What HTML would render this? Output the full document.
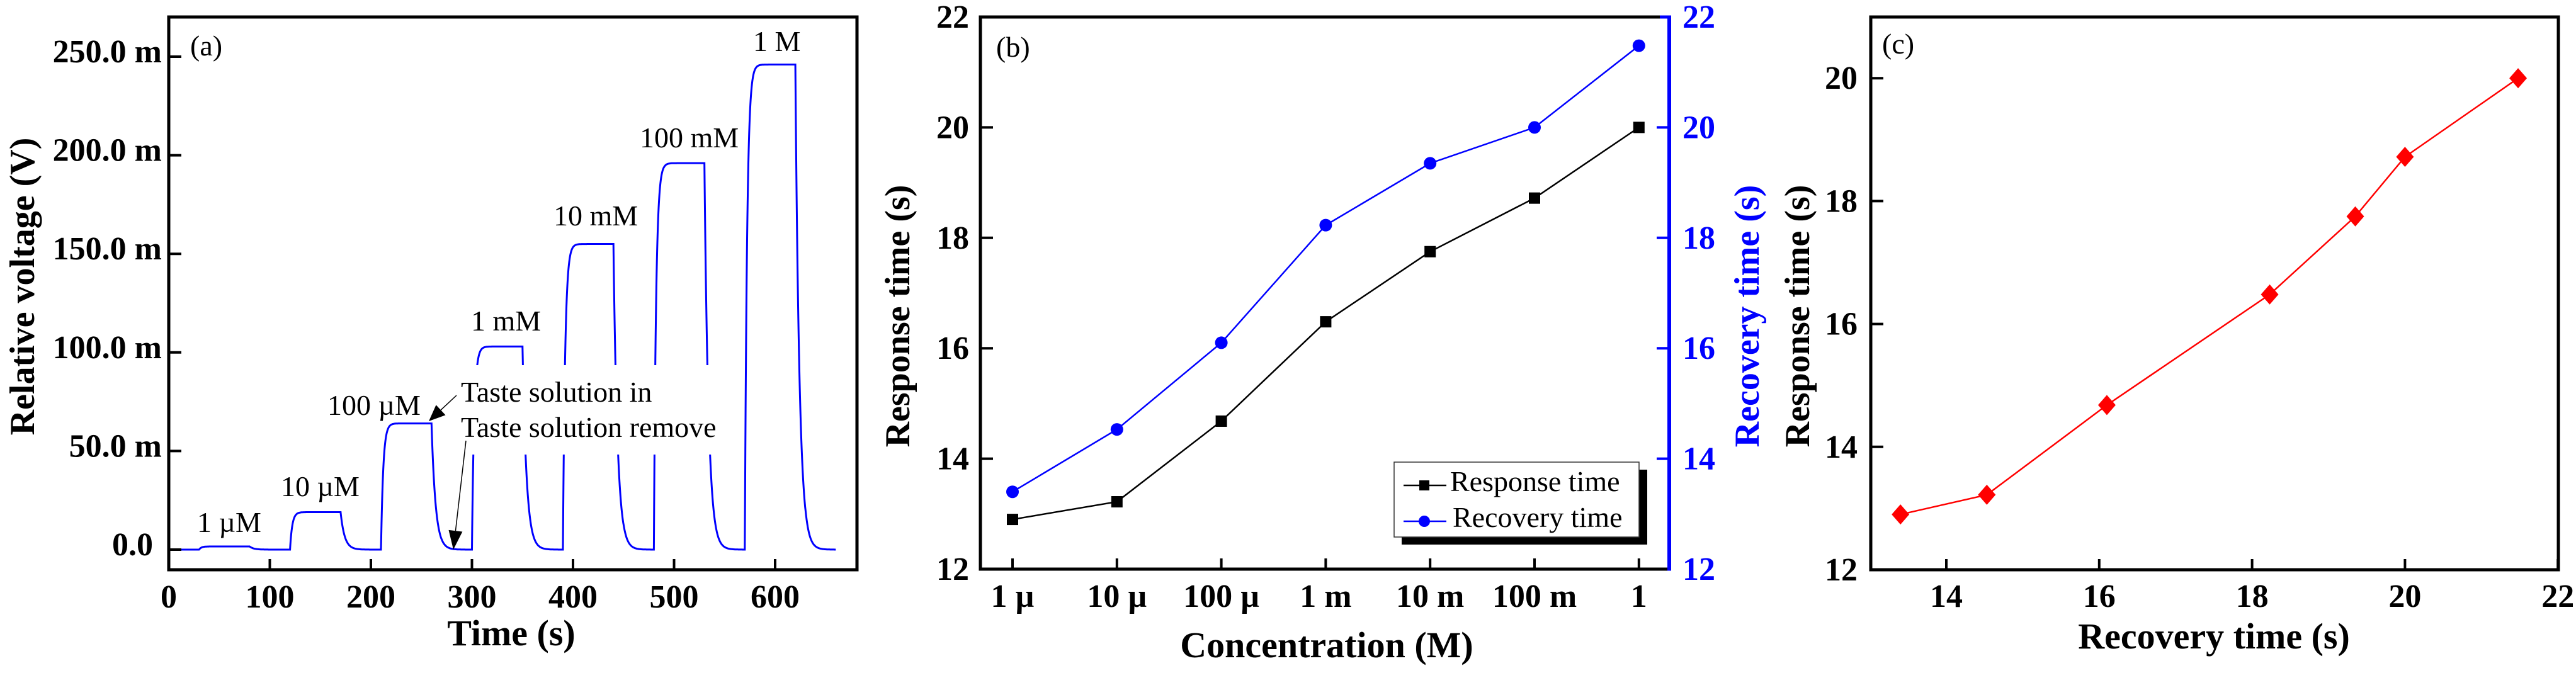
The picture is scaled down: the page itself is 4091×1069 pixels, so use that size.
<!DOCTYPE html>
<html><head><meta charset="utf-8"><style>
html,body{margin:0;padding:0;background:#fff}
svg, svg text{font-family:"Liberation Serif","DejaVu Serif",serif !important}
</style></head><body>
<svg id="fig" width="4091" height="1064" viewBox="0 0 4091 1064" xmlns="http://www.w3.org/2000/svg" font-family="'Liberation Serif', 'DejaVu Serif', serif">
<rect width="4091" height="1064" fill="#fff"/>
<g id="pa"></g>
<g id="pb"></g>
<g id="pc"></g>
</svg>
<script>
// ---- panel (a) data ----
const pulseStarts = [30, 120, 210, 300, 390, 480, 570];
const pulseLevels = [1.6, 19, 64, 103, 155, 196, 246];
const pulseLabels = ["1 µM", "10 µM", "100 µM", "1 mM", "10 mM", "100 mM", "1 M"];
const aXTicks = [0, 100, 200, 300, 400, 500, 600];
const aYTicks = [0, 50, 100, 150, 200, 250];
const aYTickLabels = ["0.0", "50.0 m", "100.0 m", "150.0 m", "200.0 m", "250.0 m"];
// ---- panel (b)/(c) data ----
const concCategories = ["1 µ", "10 µ", "100 µ", "1 m", "10 m", "100 m", "1"];
const responseTimes = [12.9, 13.22, 14.68, 16.48, 17.75, 18.72, 20.0];
const recoveryTimes = [13.4, 14.53, 16.1, 18.23, 19.35, 20.0, 21.48];
const bYTicks = [12, 14, 16, 18, 20, 22];
const cXTicks = [14, 16, 18, 20, 22];
const cYTicks = [12, 14, 16, 18, 20];

const NS = "http://www.w3.org/2000/svg";
function mk(parent, tag, attrs, text) {
  const e = document.createElementNS(NS, tag);
  for (const k in attrs) e.setAttribute(k, attrs[k]);
  if (tag === 'text') e.style.fontFamily = '"Liberation Serif", "DejaVu Serif", serif';
  if (text !== undefined) e.textContent = text;
  parent.appendChild(e);
  return e;
}

// ================= Panel A =================
(function(){
  const g = document.getElementById('pa');
  const L = 268, R = 1361, T = 27, B = 905;
  const x = t => L + (t - 0) * 1.605;
  const y = v => 873 - v * 3.132;
  let pts = [];
  const dur = 50, tr = 2.2, td = 4;
  for (let t = 0; t <= 660; t += 0.25) {
    let v = 0;
    for (let i = 0; i < pulseStarts.length; i++) {
      const s = pulseStarts[i], lv = pulseLevels[i];
      if (t >= s && t < s + dur) v += lv * (1 - Math.exp(-(t - s) / tr));
      else if (t >= s + dur) {
        const top = lv * (1 - Math.exp(-dur / tr));
        v += top * Math.exp(-(t - s - dur) / td);
      }
    }
    pts.push(x(t).toFixed(1) + "," + y(v).toFixed(1));
  }
  const curve = mk(g, 'polyline', {points: pts.join(' '), fill: 'none', stroke: '#0000ff', 'stroke-width': 3});
  
  
  const m = mk(g, 'rect', {x: 750, y: 580, width: 412, height: 142, fill: '#fff'});
  
  
  const lblPos = [[313, 845], [446, 788], [520, 659], [748, 525], [879, 358], [1016, 234], [1196, 81]];
  pulseLabels.forEach((s, i) => {
    const t = mk(g, 'text', {x: lblPos[i][0], y: lblPos[i][1], 'font-size': 46}, s);
    
    
  });
  let t1 = mk(g, 'text', {x: 732, y: 638, 'font-size': 46}, 'Taste solution in');
  
  
  let t2 = mk(g, 'text', {x: 732, y: 694, 'font-size': 46}, 'Taste solution remove');
  
  
  function arrow(x1, y1, x2, y2, hl, hw, name) {
    const a = mk(g, 'g', {});
    
    
    const dx = x2 - x1, dy = y2 - y1, len = Math.hypot(dx, dy);
    const ux = dx / len, uy = dy / len;
    const bx = x2 - ux * hl, by = y2 - uy * hl;
    mk(a, 'line', {x1: x1, y1: y1, x2: bx, y2: by, stroke: '#000', 'stroke-width': 1.5});
    mk(a, 'polygon', {points: `${x2},${y2} ${bx - uy * hw},${by + ux * hw} ${bx + uy * hw},${by - ux * hw}`, fill: '#000'});
  }
  arrow(725, 628, 681, 669, 26, 11, 'arrow-solution-in');
  arrow(740, 700, 720, 873, 30, 11, 'arrow-solution-remove');
  aXTicks.forEach(v => {
    mk(g, 'line', {x1: x(v), y1: B, x2: x(v), y2: B - 17, stroke: '#000', 'stroke-width': 4});
    const t = mk(g, 'text', {x: x(v), y: 965, 'font-size': 52, 'font-weight': 'bold', 'text-anchor': 'middle'}, String(v));
    
    
  });
  aYTicks.forEach((v, i) => {
    mk(g, 'line', {x1: L, y1: y(v), x2: L + 20, y2: y(v), stroke: '#000', 'stroke-width': 4});
    const t = mk(g, 'text', {x: v === 0 ? 243 : 257, y: y(v) + 9, 'font-size': 52, 'font-weight': 'bold', 'text-anchor': 'end'}, aYTickLabels[i]);
    
    
  });
  const fr = mk(g, 'rect', {x: L, y: T, width: R - L, height: B - T, fill: 'none', stroke: '#000', 'stroke-width': 5});
  
  
  let tl = mk(g, 'text', {x: 302, y: 88, 'font-size': 46}, '(a)');
  
  
  let xt = mk(g, 'text', {x: 812, y: 1025, 'font-size': 58, 'font-weight': 'bold', 'text-anchor': 'middle'}, 'Time (s)');
  
  
  let yt = mk(g, 'text', {x: 0, y: 0, 'font-size': 56, 'font-weight': 'bold', 'text-anchor': 'middle', transform: 'translate(54,455) rotate(-90)'}, 'Relative voltage (V)');
  
  
})();

// ================= Panel B =================
(function(){
  const g = document.getElementById('pb');
  const L = 1557, R = 2651, T = 27, B = 904;
  const x = i => 1608 + i * 165.8;
  const y = v => B - (v - 12) * (B - T) / 10;
  const lr = mk(g, 'polyline', {points: responseTimes.map((v, i) => x(i) + ',' + y(v)).join(' '), fill: 'none', stroke: '#000', 'stroke-width': 2.5});
  
  
  const lc = mk(g, 'polyline', {points: recoveryTimes.map((v, i) => x(i) + ',' + y(v)).join(' '), fill: 'none', stroke: '#0000ff', 'stroke-width': 2.5});
  
  
  responseTimes.forEach((v, i) => {
    const r = mk(g, 'rect', {x: x(i) - 9, y: y(v) - 9, width: 18, height: 18, fill: '#000'});
    
    
  });
  recoveryTimes.forEach((v, i) => {
    const c = mk(g, 'circle', {cx: x(i), cy: y(v), r: 10, fill: '#0000ff'});
    
    
  });
  concCategories.forEach((s, i) => {
    mk(g, 'line', {x1: x(i), y1: B, x2: x(i), y2: B - 17, stroke: '#000', 'stroke-width': 4});
    const t = mk(g, 'text', {x: x(i), y: 964, 'font-size': 52, 'font-weight': 'bold', 'text-anchor': 'middle'}, s);
    
    
  });
  bYTicks.forEach(v => {
    mk(g, 'line', {x1: L, y1: y(v), x2: L + 20, y2: y(v), stroke: '#000', 'stroke-width': 4});
    mk(g, 'line', {x1: R, y1: y(v), x2: R - 20, y2: y(v), stroke: '#0000ff', 'stroke-width': 4});
    const t = mk(g, 'text', {x: 1539, y: y(v) + 17, 'font-size': 52, 'font-weight': 'bold', 'text-anchor': 'end'}, String(v));
    
    
    const t2 = mk(g, 'text', {x: 2672, y: y(v) + 17, 'font-size': 52, 'font-weight': 'bold', fill: '#0000ff'}, String(v));
    
    
  });
  mk(g, 'polyline', {points: `${R},${T} ${L},${T} ${L},${B} ${R},${B}`, fill: 'none', stroke: '#000', 'stroke-width': 5});
  const ra = mk(g, 'line', {x1: R, y1: T - 2.5, x2: R, y2: B + 2.5, stroke: '#0000ff', 'stroke-width': 6});
  
  
  mk(g, 'line', {x1: R - 15, y1: T, x2: R, y2: T, stroke: '#0000ff', 'stroke-width': 5});
  const lg = mk(g, 'g', {});
  
  
  mk(lg, 'rect', {x: 2226, y: 746, width: 390, height: 119, fill: '#000'});
  mk(lg, 'rect', {x: 2214, y: 734, width: 389, height: 119, fill: '#fff', stroke: '#333', 'stroke-width': 1.5});
  mk(lg, 'line', {x1: 2229, y1: 771, x2: 2297, y2: 771, stroke: '#000', 'stroke-width': 2.5});
  mk(lg, 'rect', {x: 2254, y: 763, width: 16, height: 16, fill: '#000'});
  mk(lg, 'line', {x1: 2229, y1: 828, x2: 2297, y2: 828, stroke: '#0000ff', 'stroke-width': 2.5});
  mk(lg, 'circle', {cx: 2262, cy: 828, r: 9, fill: '#0000ff'});
  let e1 = mk(lg, 'text', {x: 2303, y: 780, 'font-size': 46}, 'Response time');
  
  
  let e2 = mk(lg, 'text', {x: 2307, y: 837, 'font-size': 46}, 'Recovery time');
  
  
  let tl = mk(g, 'text', {x: 1582, y: 90, 'font-size': 46}, '(b)');
  
  
  let xt = mk(g, 'text', {x: 2107, y: 1044, 'font-size': 58, 'font-weight': 'bold', 'text-anchor': 'middle'}, 'Concentration (M)');
  
  
  let yt = mk(g, 'text', {x: 0, y: 0, 'font-size': 56, 'font-weight': 'bold', 'text-anchor': 'middle', transform: 'translate(1444,502) rotate(-90)'}, 'Response time (s)');
  
  
  let yt2 = mk(g, 'text', {x: 0, y: 0, 'font-size': 56, 'font-weight': 'bold', fill: '#0000ff', 'text-anchor': 'middle', transform: 'translate(2793,502) rotate(-90)'}, 'Recovery time (s)');
  
  
})();

// ================= Panel C =================
(function(){
  const g = document.getElementById('pc');
  const L = 2971, R = 4063, T = 27, B = 905;
  const x = v => 3091 + (v - 14) * 121.4;
  const y = v => 905 - (v - 12) * 97.6;
  const ln = mk(g, 'polyline', {points: recoveryTimes.map((v, i) => x(v) + ',' + y(responseTimes[i])).join(' '), fill: 'none', stroke: '#ff0000', 'stroke-width': 2.5});
  
  
  recoveryTimes.forEach((v, i) => {
    const cx = x(v), cy = y(responseTimes[i]);
    const d = mk(g, 'polygon', {points: `${cx},${cy - 16} ${cx + 14},${cy} ${cx},${cy + 16} ${cx - 14},${cy}`, fill: '#ff0000'});
    
    
  });
  cXTicks.forEach(v => {
    mk(g, 'line', {x1: x(v), y1: B, x2: x(v), y2: B - 17, stroke: '#000', 'stroke-width': 4});
    const t = mk(g, 'text', {x: x(v), y: 964, 'font-size': 52, 'font-weight': 'bold', 'text-anchor': 'middle'}, String(v));
    
    
  });
  cYTicks.forEach(v => {
    mk(g, 'line', {x1: L, y1: y(v), x2: L + 20, y2: y(v), stroke: '#000', 'stroke-width': 4});
    const t = mk(g, 'text', {x: 2950, y: y(v) + 17, 'font-size': 52, 'font-weight': 'bold', 'text-anchor': 'end'}, String(v));
    
    
  });
  const fr = mk(g, 'rect', {x: L, y: T, width: R - L, height: B - T, fill: 'none', stroke: '#000', 'stroke-width': 5});
  
  
  let tl = mk(g, 'text', {x: 2989, y: 85, 'font-size': 46}, '(c)');
  
  
  let xt = mk(g, 'text', {x: 3516, y: 1030, 'font-size': 58, 'font-weight': 'bold', 'text-anchor': 'middle'}, 'Recovery time (s)');
  
  
  let yt = mk(g, 'text', {x: 0, y: 0, 'font-size': 56, 'font-weight': 'bold', 'text-anchor': 'middle', transform: 'translate(2873,502) rotate(-90)'}, 'Response time (s)');
  
  
})();
</script>
</body></html>
